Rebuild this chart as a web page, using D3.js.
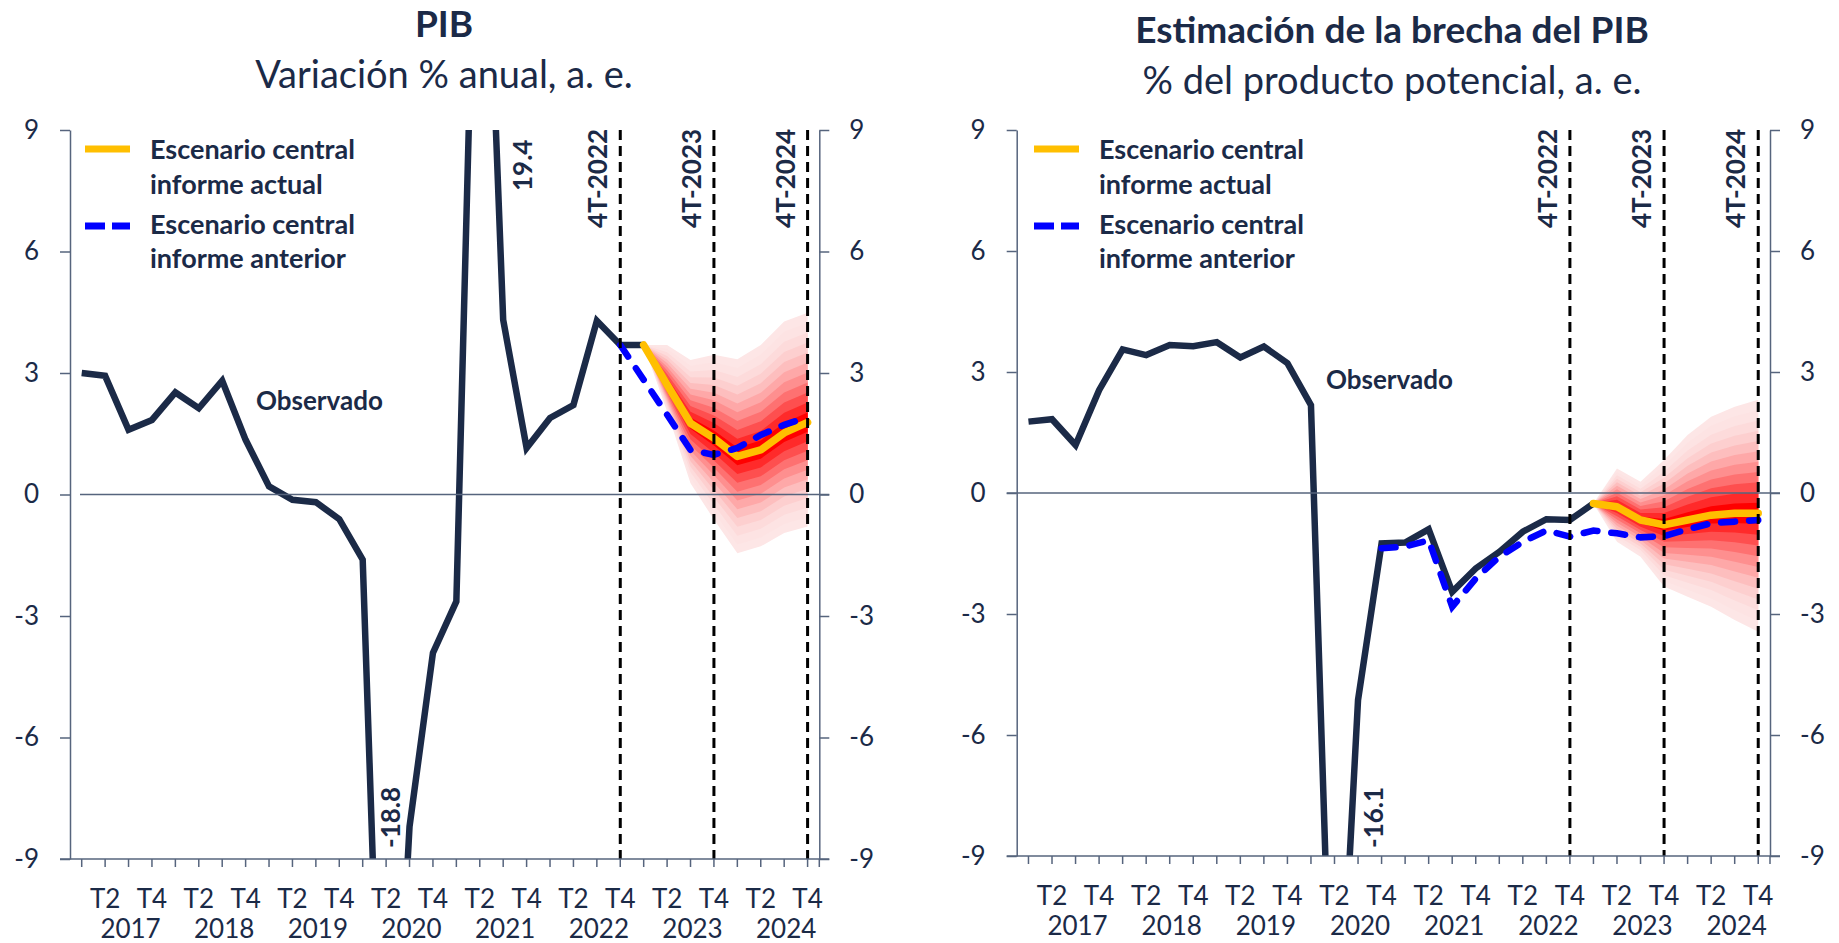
<!DOCTYPE html>
<html>
<head>
<meta charset="utf-8">
<script src="https://cdn.jsdelivr.net/npm/d3@7"></script>
<style>
  body { margin: 0; background: #fff; }
  svg { display: block; font-family: Lato, "Noto Sans", sans-serif; }
</style>
</head>
<body>
<svg id="chart" width="1839" height="943"></svg>
<script>
// ---- categories ----
var years = [2017, 2018, 2019, 2020, 2021, 2022, 2023, 2024];
var quarterNames = ["T1", "T2", "T3", "T4"];
var quarters = [];
years.forEach(function(yr) {
    quarterNames.forEach(function(q) { quarters.push(q + "-" + yr); });
});

var yTicks = [-9, -6, -3, 0, 3, 6, 9];
var markerQuarters = ["T4-2022", "T4-2023", "T4-2024"];
var markerLabels = ["4T-2022", "4T-2023", "4T-2024"];

// ---- PIB, variacion % anual ----
var pibObservado = [3.0, 2.93, 1.60, 1.84, 2.52, 2.13, 2.81, 1.35, 0.20, -0.13, -0.19, -0.61,
    -1.61, -18.8, -8.2, -3.91, -2.64, 19.4, 4.31, 1.15, 1.89, 2.21, 4.29, 3.69, 3.69];
var pibActualDesde = "T1-2023";
var pibActual = [3.69, 2.71, 1.76, 1.39, 0.94, 1.10, 1.52, 1.78];
var pibAnteriorDesde = "T4-2022";
var pibAnterior = [3.69, 2.83, 1.97, 1.10, 0.98, 1.15, 1.47, 1.72, 1.91];
var pibFanAlto = [3.69, 3.69, 3.32, 3.45, 3.34, 3.69, 4.27, 4.49];
var pibFanBajo = [3.69, 2.05, 0.28, -0.62, -1.45, -1.28, -0.95, -0.79];

// ---- Brecha del PIB, % del producto potencial ----
var brechaObservado = [1.77, 1.83, 1.19, 2.55, 3.56, 3.42, 3.67, 3.64, 3.74, 3.36, 3.63, 3.22,
    2.18, -16.1, -5.13, -1.25, -1.23, -0.90, -2.45, -1.87, -1.46, -0.96, -0.65, -0.67, -0.26];
var brechaActualDesde = "T1-2023";
var brechaActual = [-0.26, -0.34, -0.67, -0.79, -0.67, -0.55, -0.50, -0.50];
var brechaAnteriorDesde = "T4-2020";
var brechaAnterior = [-1.37, -1.33, -1.17, -2.82, -2.12, -1.58, -1.21, -0.93, -1.08, -0.93,
    -1.00, -1.10, -1.07, -0.90, -0.75, -0.71, -0.67];
var brechaFanAlto = [-0.26, 0.61, 0.28, 0.82, 1.44, 1.89, 2.14, 2.31];
var brechaFanBajo = [-0.26, -1.21, -1.58, -2.32, -2.57, -2.82, -3.15, -3.44];

var NAVY = "#1b2a47";
var AXIS = "#56647d";
var YELLOW = "#ffbf00";
var BLUE = "#0000ff";

var svg = d3.select("#chart");

// plain hyphen for negatives, like the original
var fmt = function(d) { return String(d); };

/** pairs a series with its quarters, starting at the given quarter */
function serie(values, desde) {
    var start = desde ? quarters.indexOf(desde) : 0;
    return values.map(function(v, i) { return {q: quarters[start + i], v: v}; });
}

function drawPanel(p) {
    var g = svg.append("g");
    var x = d3.scalePoint().domain(quarters).range([p.x0, p.x1]).padding(0.5);
    var y = d3.scaleLinear().domain([-9, 9]).range([p.yBot, p.yTop]);

    var clipId = "clip-" + p.id;
    svg.append("clipPath").attr("id", clipId)
        .append("rect")
        .attr("x", p.x0).attr("y", p.yTop)
        .attr("width", p.x1 - p.x0).attr("height", p.yBot - p.yTop);

    // titles
    g.append("text").attr("x", p.titleX).attr("y", p.titleY)
        .attr("text-anchor", "middle").attr("fill", NAVY)
        .style("font-size", "37px").style("font-weight", "bold")
        .text(p.title);
    g.append("text").attr("x", p.titleX).attr("y", p.titleY + 51)
        .attr("text-anchor", "middle").attr("fill", NAVY)
        .style("font-size", "38px")
        .text(p.subtitle);

    // fan chart
    var actual = serie(p.actual, p.actualDesde);
    var nLayers = 11;
    var fanColor = d3.interpolateRgb("#fde6e6", "#ff0000");
    var plot = g.append("g").attr("clip-path", "url(#" + clipId + ")");
    for (var k = nLayers; k >= 1; k--) {
        var area = d3.area()
            .x(function(d) { return x(d.q); })
            .y0(function(d, i) { return y(d.v + (p.fanBajo[i] - d.v) * k / nLayers); })
            .y1(function(d, i) { return y(d.v + (p.fanAlto[i] - d.v) * k / nLayers); });
        plot.append("path").datum(actual)
            .attr("d", area)
            .attr("fill", fanColor(Math.pow((nLayers - k) / (nLayers - 1), 1.9)));
    }

    // zero line
    g.append("line")
        .attr("x1", p.zeroFrom).attr("x2", p.x1 + 10)
        .attr("y1", y(0)).attr("y2", y(0))
        .attr("stroke", AXIS).attr("stroke-width", 1.4);

    // vertical markers
    markerQuarters.forEach(function(q, i) {
        g.append("line")
            .attr("x1", x(q)).attr("x2", x(q))
            .attr("y1", p.yTop).attr("y2", p.yBot)
            .attr("stroke", "#000").attr("stroke-width", 3)
            .attr("stroke-dasharray", "10,6");
        g.append("text")
            .attr("transform", "translate(" + (x(q) - 13) + "," + (p.yTop + 98) + ") rotate(-90)")
            .attr("fill", NAVY)
            .style("font-size", "26px").style("font-weight", "bold")
            .text(markerLabels[i]);
    });

    var line = d3.line()
        .x(function(d) { return x(d.q); })
        .y(function(d) { return y(d.v); });

    plot.append("path").datum(serie(p.observado))
        .attr("d", line)
        .attr("fill", "none").attr("stroke", NAVY).attr("stroke-width", 6.5)
        .attr("stroke-linejoin", "miter").attr("stroke-miterlimit", 4);

    plot.append("path").datum(actual)
        .attr("d", line)
        .attr("fill", "none").attr("stroke", YELLOW).attr("stroke-width", 7.5)
        .attr("stroke-linejoin", "round").attr("stroke-linecap", "round");

    plot.append("path").datum(serie(p.anterior, p.anteriorDesde))
        .attr("d", line)
        .attr("fill", "none").attr("stroke", BLUE).attr("stroke-width", 6.5)
        .attr("stroke-dasharray", "14,14").attr("stroke-linecap", "round");

    // axes
    var axL = d3.axisLeft(y).tickValues(yTicks).tickFormat(fmt)
        .tickSize(10).tickSizeOuter(0).tickPadding(21);
    var axR = d3.axisRight(y).tickValues(yTicks).tickFormat(fmt)
        .tickSize(10).tickSizeOuter(0).tickPadding(20);
    [g.append("g").attr("transform", "translate(" + p.x0 + ",0)").call(axL),
     g.append("g").attr("transform", "translate(" + p.x1 + ",0)").call(axR)].forEach(function(a) {
        a.selectAll("path, line").attr("stroke", AXIS).attr("stroke-width", 1.5);
        a.selectAll("text").attr("fill", NAVY).style("font-size", "26px")
            .style("font-family", "Lato, 'Noto Sans', sans-serif");
    });

    // category axis
    var xa = g.append("g");
    xa.append("line")
        .attr("x1", p.x0 - 10).attr("x2", p.x1 + 10)
        .attr("y1", p.yBot).attr("y2", p.yBot)
        .attr("stroke", AXIS).attr("stroke-width", 1.5);
    xa.selectAll("line.tick").data(quarters.concat(["end"])).enter().append("line")
        .attr("class", "tick")
        .attr("x1", function(d) { return d === "end" ? p.x1 : x(d); })
        .attr("x2", function(d) { return d === "end" ? p.x1 : x(d); })
        .attr("y1", p.yBot).attr("y2", p.yBot + 8)
        .attr("stroke", AXIS).attr("stroke-width", 1.5);
    xa.selectAll("text.q").data(quarters.filter(function(q) {
            return q.indexOf("T2") === 0 || q.indexOf("T4") === 0;
        })).enter().append("text")
        .attr("class", "q")
        .attr("x", function(d) { return x(d); })
        .attr("y", p.yBot + 49)
        .attr("text-anchor", "middle").attr("fill", NAVY)
        .style("font-size", "26px")
        .text(function(d) { return d.split("-")[0]; });
    xa.selectAll("text.yr").data(years).enter().append("text")
        .attr("class", "yr")
        .attr("x", function(d) { return x("T3-" + d) + 2; })
        .attr("y", p.yBot + 79)
        .attr("text-anchor", "middle").attr("fill", NAVY)
        .style("font-size", "26px")
        .text(function(d) { return d; });

    // legend
    var lg = g.append("g").attr("fill", NAVY)
        .style("font-size", "27px").style("font-weight", "bold");
    lg.append("line")
        .attr("x1", p.legX).attr("x2", p.legX + 45)
        .attr("y1", 149).attr("y2", 149)
        .attr("stroke", YELLOW).attr("stroke-width", 7);
    lg.append("line")
        .attr("x1", p.legX).attr("x2", p.legX + 45)
        .attr("y1", 226).attr("y2", 226)
        .attr("stroke", BLUE).attr("stroke-width", 7)
        .attr("stroke-dasharray", "20,7");
    [["Escenario central", 159], ["informe actual", 194],
     ["Escenario central", 234], ["informe anterior", 268]].forEach(function(t) {
        lg.append("text").attr("x", p.legX + 65).attr("y", t[1]).text(t[0]);
    });

    // observed label
    g.append("text").attr("x", p.obsX).attr("y", p.obsY)
        .attr("fill", NAVY).style("font-size", "26px").style("font-weight", "bold")
        .text("Observado");

    // out of range values
    p.extremos.forEach(function(e) {
        var v = p.observado[quarters.indexOf(e.q)];
        g.append("text")
            .attr("transform", "translate(" + (x(e.q) + e.dx) + "," + e.y + ") rotate(-90)")
            .attr("fill", NAVY).style("font-size", "26px").style("font-weight", "bold")
            .text(v.toFixed(1));
    });
}

drawPanel({
    id: "pib", x0: 70, x1: 819.3, yTop: 130, yBot: 859, zeroFrom: 80,
    title: "PIB", subtitle: "Variación % anual, a. e.", titleX: 444, titleY: 37,
    observado: pibObservado,
    actual: pibActual, actualDesde: pibActualDesde,
    anterior: pibAnterior, anteriorDesde: pibAnteriorDesde,
    fanAlto: pibFanAlto, fanBajo: pibFanBajo,
    legX: 85, obsX: 256, obsY: 410,
    extremos: [{q: "T2-2020", dx: 14, y: 848}, {q: "T2-2021", dx: 52, y: 191}]
});

drawPanel({
    id: "brecha", x0: 1016.7, x1: 1770, yTop: 130, yBot: 856, zeroFrom: 1006.7,
    title: "Estimación de la brecha del PIB", subtitle: "% del producto potencial, a. e.",
    titleX: 1392, titleY: 43,
    observado: brechaObservado,
    actual: brechaActual, actualDesde: brechaActualDesde,
    anterior: brechaAnterior, anteriorDesde: brechaAnteriorDesde,
    fanAlto: brechaFanAlto, fanBajo: brechaFanBajo,
    legX: 1034, obsX: 1326, obsY: 389,
    extremos: [{q: "T2-2020", dx: 49, y: 848}]
});
</script>
</body>
</html>
